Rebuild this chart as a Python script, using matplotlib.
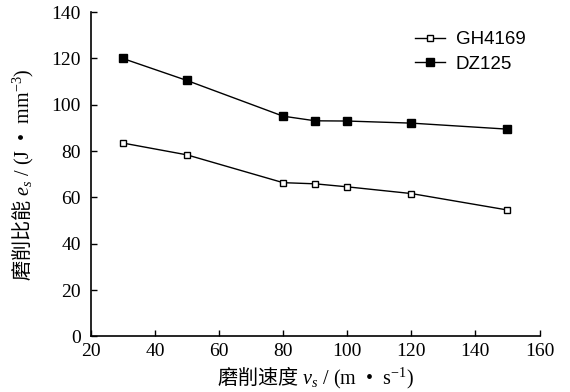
import matplotlib

matplotlib.use("Agg")
import matplotlib.pyplot as plt

# Grinding speed (m/s) and specific grinding energy (J/mm^3)
speeds = [30, 50, 80, 90, 100, 120, 150]
gh4169 = [83.5, 78.4, 66.4, 65.9, 64.6, 61.7, 54.6]
dz125 = [120.0, 110.5, 95.1, 93.1, 93.0, 92.1, 89.5]

x_ticks = [20, 40, 60, 80, 100, 120, 140, 160]
y_ticks = [0, 20, 40, 60, 80, 100, 120, 140]

plt.rcParams["font.family"] = ["Liberation Serif", "Noto Sans CJK SC"]
plt.rcParams["mathtext.fontset"] = "custom"
plt.rcParams["mathtext.rm"] = "Liberation Serif"
plt.rcParams["mathtext.it"] = "Liberation Serif:italic"
# CJK words inside the mathtext labels go through \mathsf
plt.rcParams["mathtext.sf"] = "Noto Sans CJK SC"

fig = plt.figure(figsize=(5.7, 3.92), dpi=100)
ax = fig.add_axes([0.1593, 0.1416, 0.7872, 0.8274])

ax.plot(speeds, gh4169, color="black", linewidth=1.0, marker="s", markersize=5,
        markerfacecolor="white", markeredgecolor="black", markeredgewidth=1.0, label="GH4169")
ax.plot(speeds, dz125, color="black", linewidth=1.0, marker="s", markersize=5.5,
        markerfacecolor="black", markeredgecolor="black", label="DZ125")

ax.set_xlim(20, 160)
ax.set_ylim(0, 140)
ax.set_xticks(x_ticks)
ax.set_yticks(y_ticks)
ax.tick_params(direction="in", length=4, width=1.0, labelsize=14)
ax.tick_params(axis="x", pad=5)
ax.tick_params(axis="y", pad=7)
for side in ["top", "right"]:
    ax.spines[side].set_visible(False)
for side in ["left", "bottom"]:
    ax.spines[side].set_linewidth(1.2)

ax.set_xlabel(r"$\mathsf{磨削速度}$ $v_s$ / (m  •  s$^{-1}$)", fontsize=14.5, labelpad=3)
ax.set_ylabel(r"$\mathsf{磨削比能}$ $e_s$ / (J  •  mm$^{-3}$)", fontsize=14.5, labelpad=11)

ax.legend(loc="upper right", bbox_to_anchor=(0.935, 0.94), bbox_transform=fig.transFigure,
          frameon=False, prop={"family": "Liberation Sans", "size": 13.5},
          handlelength=1.6, handletextpad=0.55, labelspacing=0.4, borderaxespad=0)

fig.savefig("out.png", dpi=100)
